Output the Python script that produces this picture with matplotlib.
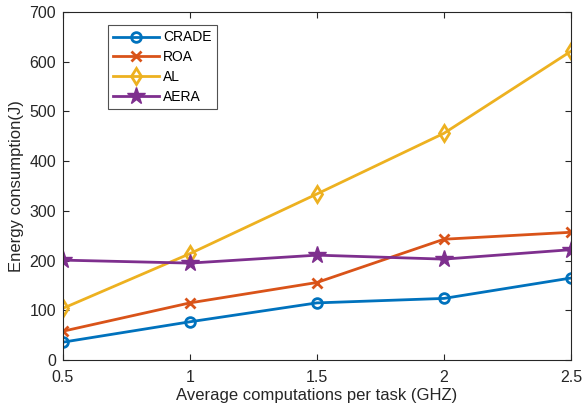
import matplotlib
matplotlib.use('Agg')
import matplotlib.pyplot as plt

plt.rcParams['font.family'] = ['Liberation Sans', 'DejaVu Sans']

x = [0.5, 1, 1.5, 2, 2.5]
crade = [36, 77, 115, 124, 165]
roa = [58, 115, 156, 243, 257]
al = [104, 214, 334, 456, 621]
aera = [201, 195, 211, 203, 222]

fig = plt.figure(figsize=(5.82, 4.12), dpi=100)
ax = fig.add_axes([0.108, 0.126, 0.873, 0.845])

ax.plot(x, crade, color='#0072BD', lw=2, marker='o', ms=7, mfc='none', mew=2, label='CRADE')
ax.plot(x, roa, color='#D95319', lw=2, marker='x', ms=7, mew=2, label='ROA')
ax.plot(x, al, color='#EDB120', lw=2, marker='d', ms=8, mfc='none', mew=2, label='AL')
ax.plot(x, aera, color='#7E2F8E', lw=2, marker='*', ms=13, label='AERA')

ax.set_xlim(0.5, 2.5)
ax.set_ylim(0, 700)
ax.set_xticks([0.5, 1, 1.5, 2, 2.5])
ax.set_xticklabels(['0.5', '1', '1.5', '2', '2.5'])
ax.set_yticks(range(0, 701, 100))
ax.tick_params(direction='in', top=True, right=True, labelsize=11.5, colors='#262626', length=4)
ax.tick_params(axis='x', pad=7)
ax.tick_params(axis='y', pad=5)
for s in ax.spines.values():
    s.set_color('#262626')
    s.set_linewidth(0.8)

ax.set_xlabel('Average computations per task (GHZ)', fontsize=12, color='#262626', labelpad=2)
ax.set_ylabel('Energy consumption(J)', fontsize=12, color='#262626', labelpad=4)

leg = ax.legend(loc='upper left', bbox_to_anchor=(0.088, 0.963), fontsize=10, frameon=True,
                fancybox=False, edgecolor='#262626', handlelength=3.3, borderpad=0.4,
                labelspacing=0.42, handletextpad=0.3, borderaxespad=0)
leg.get_frame().set_linewidth(0.8)

fig.savefig('out.png', dpi=100)
